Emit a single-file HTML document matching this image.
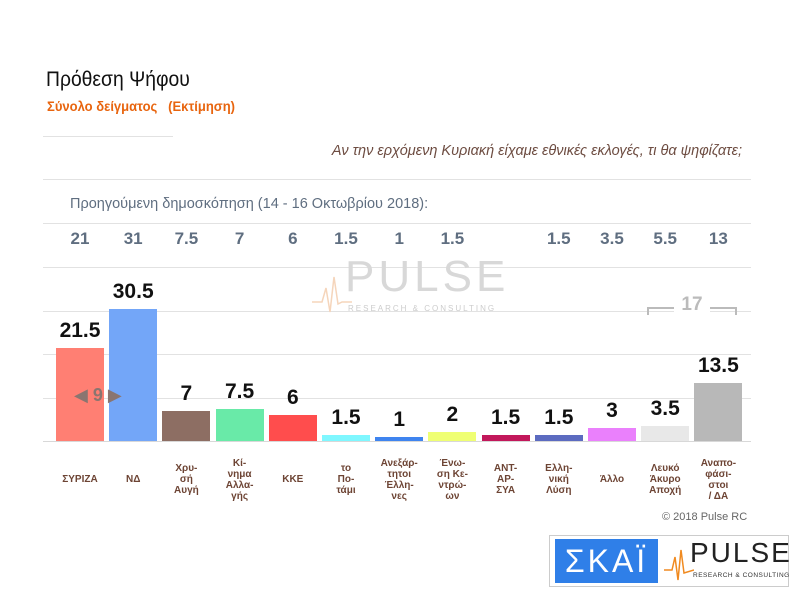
<!DOCTYPE html>
<html><head><meta charset="utf-8"><style>
body{margin:0;width:794px;height:595px;background:#fff;position:relative;overflow:hidden;font-family:"Liberation Sans","DejaVu Sans",sans-serif}
.a{position:absolute;white-space:nowrap}
.gl{position:absolute;left:43px;width:708px;height:1px;background:#e2e2e2}
.bar{position:absolute;width:48px}
.v{position:absolute;width:54px;text-align:center;font-weight:bold;font-size:21px;color:#111}
.p{position:absolute;width:54px;text-align:center;font-weight:bold;font-size:17px;color:#5f6e80;top:229px}
.l{position:absolute;width:54px;text-align:center;font-weight:bold;font-size:10px;line-height:11px;color:#6d4434}
</style></head><body>
<div class="a" style="left:46px;top:68px;font-size:21px;color:#111;transform:scaleX(0.92);transform-origin:left">Πρόθεση Ψήφου</div>
<div class="a" style="left:47px;top:98px;font-size:14px;font-weight:bold;color:#e8650f;transform:scaleX(0.93);transform-origin:left">Σύνολο δείγματος&nbsp;&nbsp;&nbsp;(Εκτίμηση)</div>
<div class="gl" style="top:136px;width:130px"></div>
<div class="a" style="right:52px;top:143px;font-size:14.5px;font-style:italic;color:#6d4c41">Αν την ερχόμενη Κυριακή είχαμε εθνικές εκλογές, τι θα ψηφίζατε;</div>
<div class="gl" style="top:179px"></div>
<div class="a" style="left:70px;top:196px;font-size:14.5px;color:#5f6e80">Προηγούμενη δημοσκόπηση (14 - 16 Οκτωβρίου 2018):</div>
<div class="gl" style="top:223px"></div>
<div class="gl" style="top:267px"></div>
<div class="gl" style="top:311px"></div>
<div class="gl" style="top:354px"></div>
<div class="gl" style="top:398px"></div>
<div class="gl" style="top:441px;background:#d8d8d8"></div>
<div class="a" style="left:345px;top:252px;font-size:44px;color:#d8d8d8;letter-spacing:4px">PULSE</div>
<div class="a" style="left:348px;top:304px;font-size:8px;color:#ccc;letter-spacing:2px">RESEARCH &amp; CONSULTING</div>
<svg class="a" style="left:312px;top:272px" width="40" height="46"><polyline points="0,30 10,30 14,16 18,40 22,5 26,32 30,30 40,30" fill="none" stroke="#f5d5bb" stroke-width="1.5"/></svg>
<div class="a" style="left:647px;top:307px;width:90px;height:8px;border-top:2px solid #bbb;border-left:2px solid #bbb;border-right:2px solid #bbb;box-sizing:border-box"></div>
<div class="a" style="left:674px;top:294px;width:36px;background:#fff;text-align:center;font-size:19px;font-weight:bold;color:#bbb">17</div>
<div id="c"></div>
<div class="a" style="left:74px;top:385px;font-size:18px;font-weight:bold;color:#8a7570">◀ 9 ▶</div>
<div class="a" style="left:662px;top:511px;font-size:11px;color:#666">© 2018 Pulse RC</div>
<div class="a" style="left:549px;top:535px;width:240px;height:52px;border:1px solid #ccc;box-sizing:border-box"></div>
<div class="a" style="left:555px;top:539px;width:103px;height:44px;background:#2f7fe8;color:#fff;font-size:32px;text-align:center;line-height:44px;letter-spacing:3px">ΣΚΑΪ</div>
<div class="a" style="left:690px;top:537px;font-size:28px;color:#222;letter-spacing:2px">PULSE</div>
<div class="a" style="left:693px;top:572px;font-size:6.5px;color:#333;letter-spacing:0.5px">RESEARCH &amp; CONSULTING</div>
<svg class="a" style="left:664px;top:545px" width="30" height="40"><polyline points="0,25 8,25 11,12 14,35 17,5 20,28 30,25" fill="none" stroke="#f08a20" stroke-width="1.5"/></svg>
<script>
var d=[["ΣΥΡΙΖΑ",21.5,"#ff7f73","21"],["ΝΔ",30.5,"#73a6f8","31"],["Χρυ-<br>σή<br>Αυγή",7,"#8d6e63","7.5"],["Κί-<br>νημα<br>Αλλα-<br>γής",7.5,"#69eaa8","7"],["ΚΚΕ",6,"#ff4d4d","6"],["το<br>Πο-<br>τάμι",1.5,"#7ff7ff","1.5"],["Ανεξάρ-<br>τητοι<br>Έλλη-<br>νες",1,"#3f84ef","1"],["Ένω-<br>ση Κε-<br>ντρώ-<br>ων",2,"#efff73","1.5"],["ΑΝΤ-<br>ΑΡ-<br>ΣΥΑ",1.5,"#c2185b",""],["Ελλη-<br>νική<br>Λύση",1.5,"#5c6bc0","1.5"],["Άλλο",3,"#ea80fc","3.5"],["Λευκό<br>Άκυρο<br>Αποχή",3.5,"#e8e8e8","5.5"],["Αναπο-<br>φάσι-<br>στοι<br>/ ΔΑ",13.5,"#b8b8b8","13"]];
var h="";d.forEach(function(e,i){var x=53+i*53.2,H=Math.round(e[1]*4.33);
var lines=e[0].split("<br>").length;var lt=lines==1?474:(lines==2?468:(lines==3?463:458));
h+='<div class="bar" style="left:'+(x+3)+'px;top:'+(441-H)+'px;height:'+H+'px;background:'+e[2]+'"></div>';
h+='<div class="v" style="left:'+x+'px;top:'+(441-H-29)+'px">'+e[1]+'</div>';
h+='<div class="p" style="left:'+x+'px">'+e[3]+'</div>';
h+='<div class="l" style="left:'+(x-2)+'px;width:58px;top:'+lt+'px">'+e[0]+'</div>';});
document.getElementById("c").innerHTML=h;
</script>
</body></html>
